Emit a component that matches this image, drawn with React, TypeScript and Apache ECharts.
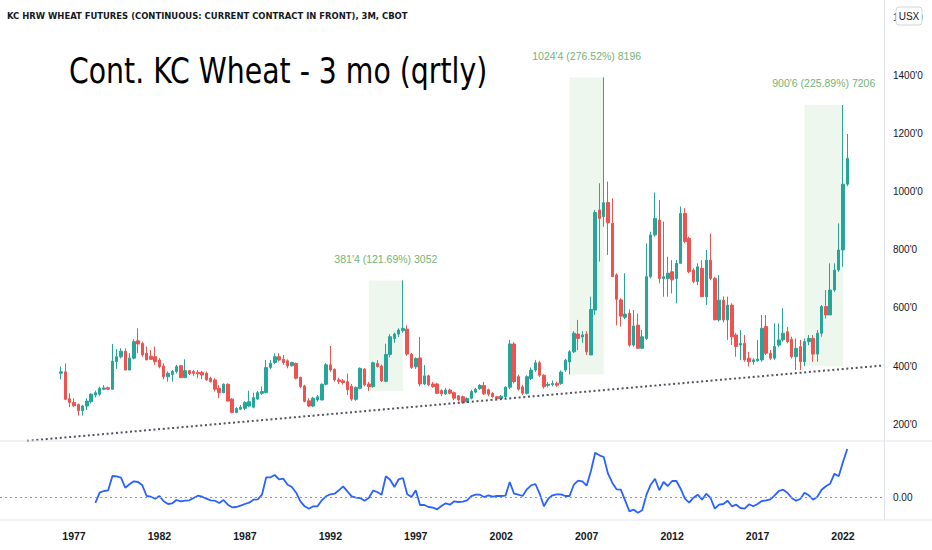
import { useEffect, useRef } from 'react';
import * as echarts from 'echarts';

// Quarterly candles, first candle = 1976 Q2. Each item: [open, close, low, high] (US cents / bu)
const FIRST_YEAR = 1976;
const FIRST_Q = 2;
const ohlc: [number, number, number, number][] = [
  [375, 380, 354, 398], [380, 285, 283, 409], [287, 274, 258, 306], [274, 263, 258, 289], [267, 246, 229, 271],
  [246, 262, 229, 266], [262, 279, 248, 289], [277, 303, 271, 306], [300, 308, 292, 315], [303, 323, 297, 329],
  [320, 324, 317, 334], [325, 320, 317, 329], [320, 417, 318, 476], [415, 432, 390, 458], [432, 451, 426, 461],
  [451, 386, 386, 461], [386, 427, 386, 444], [427, 484, 423, 492], [487, 476, 444, 530], [478, 438, 432, 484],
  [444, 421, 421, 467], [434, 423, 423, 455], [432, 415, 404, 467], [421, 398, 392, 427], [400, 363, 354, 409],
  [363, 375, 346, 381], [371, 381, 346, 386], [381, 398, 375, 404], [401, 360, 358, 404], [360, 384, 358, 423],
  [384, 373, 369, 386], [381, 375, 366, 386], [378, 373, 358, 386], [378, 369, 354, 383], [375, 352, 350, 381],
  [358, 346, 343, 363], [352, 320, 312, 358], [323, 308, 289, 335], [308, 337, 306, 340], [337, 279, 277, 340],
  [286, 240, 237, 289], [240, 254, 237, 258], [251, 258, 248, 266], [254, 274, 248, 279], [262, 277, 258, 315],
  [258, 291, 254, 308], [286, 308, 283, 314], [306, 312, 300, 329], [308, 395, 306, 421], [395, 409, 389, 421],
  [412, 432, 406, 444], [432, 421, 415, 444], [423, 412, 404, 438], [418, 400, 392, 423], [401, 412, 398, 415],
  [409, 358, 354, 412], [361, 329, 323, 363], [331, 278, 275, 335], [280, 262, 258, 289], [262, 289, 258, 294],
  [283, 294, 277, 300], [283, 337, 281, 340], [337, 404, 333, 410], [404, 386, 380, 469], [388, 352, 346, 392],
  [352, 347, 338, 360], [349, 343, 336, 355], [346, 318, 300, 374], [330, 286, 280, 338], [285, 326, 280, 330],
  [323, 392, 320, 395], [389, 335, 330, 393], [338, 329, 314, 345], [329, 411, 325, 415], [409, 398, 395, 420],
  [400, 349, 345, 405], [347, 440, 344, 477], [440, 501, 430, 510], [495, 510, 480, 515], [510, 524, 500, 530],
  [522, 530, 515, 695], [527, 441, 435, 540], [441, 395, 390, 445], [397, 426, 390, 430], [428, 338, 330, 500],
  [338, 366, 334, 403], [366, 335, 330, 370], [338, 329, 325, 345], [338, 306, 303, 342], [315, 304, 296, 320],
  [304, 317, 300, 325], [317, 306, 303, 322], [308, 289, 282, 312], [297, 283, 278, 300], [294, 274, 270, 298],
  [277, 288, 274, 292], [289, 312, 285, 318], [310, 320, 306, 325], [322, 333, 318, 338], [333, 304, 300, 345],
  [318, 303, 296, 322], [305, 294, 290, 310], [294, 288, 283, 297], [288, 296, 284, 300], [294, 327, 290, 330],
  [327, 476, 320, 490], [476, 346, 340, 482], [363, 320, 315, 370], [328, 306, 300, 335], [306, 363, 302, 368],
  [357, 386, 352, 395], [386, 411, 380, 420], [411, 368, 362, 418], [368, 329, 322, 372], [333, 337, 326, 345],
  [336, 340, 330, 350], [340, 334, 328, 346], [340, 379, 335, 385], [386, 420, 380, 425], [414, 449, 371, 455],
  [449, 513, 445, 520], [510, 495, 455, 559], [500, 507, 480, 520], [510, 449, 438, 520], [438, 595, 438, 639],
  [593, 929, 576, 938], [938, 909, 760, 1030], [915, 963, 880, 1395], [964, 894, 783, 1036], [892, 708, 708, 978],
  [714, 630, 540, 720], [628, 572, 536, 634], [568, 579, 562, 720], [582, 472, 466, 595], [472, 538, 466, 593],
  [541, 461, 458, 581], [461, 501, 458, 524], [495, 708, 490, 823], [708, 852, 702, 863], [852, 909, 846, 998],
  [903, 702, 685, 972], [702, 708, 639, 898], [702, 720, 639, 777], [725, 697, 650, 765], [702, 754, 616, 765],
  [754, 926, 754, 950], [926, 829, 823, 944], [840, 725, 720, 846], [731, 691, 685, 737], [691, 742, 679, 754],
  [737, 639, 639, 765], [639, 765, 610, 800], [765, 702, 696, 857], [702, 559, 559, 708], [559, 627, 553, 713],
  [627, 559, 550, 640], [559, 610, 490, 639], [610, 501, 472, 616], [507, 467, 432, 513], [472, 478, 421, 524],
  [478, 421, 415, 507], [427, 415, 398, 449], [415, 421, 404, 427], [418, 424, 415, 490], [421, 530, 415, 576],
  [536, 444, 438, 576], [444, 427, 421, 455], [427, 467, 421, 547], [472, 490, 466, 547], [490, 513, 484, 599],
  [518, 484, 478, 535], [492, 432, 426, 501], [432, 461, 386, 495], [467, 415, 386, 490], [415, 484, 399, 495],
  [484, 495, 472, 507], [495, 441, 415, 507], [441, 513, 415, 524], [513, 605, 501, 610], [605, 576, 564, 662],
  [576, 662, 576, 754], [662, 731, 656, 754], [731, 800, 725, 892], [800, 1027, 742, 1300], [1027, 1116, 1020, 1200],
];

// Lower-pane oscillator, starting at candle index 8 (1978 Q2)
const OSC_START = 8;
const oscillator: number[] = [
  -60, 43, 60, 67, 210, 207, 193, 93, 127, 157, 150, 117, 10, 3, -17, 10, -43, -70, -63, -30,
  -43, -37, -33, -10, 13, 3, -17, -33, -37, -60, -30, -77, -103, -100, -87, -70, -57, -27, -23, 23,
  197, 197, 220, 177, 183, 123, 100, 43, -43, -93, -117, -93, -93, -33, 7, 27, 33, 67, 107, 57,
  7, -7, -10, -37, -10, 63, 50, 23, 207, 173, 100, 177, 190, 27, 0, 67, -80, -80, -100, -107,
  -123, -90, -63, -77, -43, -50, -47, -33, 8, 23, 23, 0, 17, 3, 10, 10, 13, 150, 33, 23,
  10, 77, 117, 130, 33, -93, -17, 17, 27, 27, 10, 10, 123, 163, 157, 113, 260, 443, 417, 400,
  233, 143, 77, 73, -33, -143, -127, -157, -133, 23, 123, 183, 67, 150, 110, 160, 160, 83, -17, -57,
  -7, 23, -27, 33, -10, -117, -77, -70, -37, -93, -77, -110, -117, -73, -93, -70, -40, -33, -23, 17,
  60, 73, 43, -10, -37, -20, 43, 17, -27, 3, 73, 107, 133, 233, 207, 350, 480,
];

const yearLabels = ['1977', '1982', '1987', '1992', '1997', '2002', '2007', '2012', '2017', '2022'];
const priceTicks = [200, 400, 600, 800, 1000, 1200, 1400, 1600];
const oscTicks = [0];

// Dotted support trend line: [candle index, price]
const trendLine: [number, number][] = [[-8, 142], [192.6, 402]];

// Price-range measurements: candle index span + label
const rangeFrom = [72, 119, 174];
const rangeTo = [80, 127, 183];
const rangeLabels = ["381'4 (121.69%) 3052", "1024'4 (276.52%) 8196", "900'6 (225.89%) 7206"];

const X_MIN = -14.32;
const X_MAX = 192.6;

const quarterIndex = (year: number, q: number) => (year - FIRST_YEAR) * 4 + (q - FIRST_Q);

export default function App() {
  const ref = useRef<HTMLDivElement>(null);

  useEffect(() => {
    if (!ref.current) return;
    const chart = echarts.init(ref.current, undefined, { renderer: 'svg' });

    const candleData = ohlc.map((d, i) => [i, d[0], d[1], d[2], d[3]]);
    const oscData = oscillator.map((v, k) => [k + OSC_START, v]);
    const yearIdx = yearLabels.map((y) => quarterIndex(Number(y), 1));

    const areas = rangeFrom.map((from, k) => {
      const to = rangeTo[k];
      let lo = Infinity;
      let hi = -Infinity;
      for (let i = from; i <= to; i++) {
        lo = Math.min(lo, ohlc[i][2]);
        hi = Math.max(hi, ohlc[i][3]);
      }
      return [
        { name: rangeLabels[k], coord: [from, lo] },
        { coord: [to, hi] },
      ];
    });

    const font = '"Liberation Sans", Arial, sans-serif';
    const condensed = '"DejaVu Sans Condensed", "Liberation Sans Narrow", sans-serif';
    const sep = '#e0e3eb';

    chart.setOption({
      animation: false,
      backgroundColor: '#ffffff',
      textStyle: { fontFamily: font },
      title: [
        {
          text: 'KC HRW WHEAT FUTURES (CONTINUOUS: CURRENT CONTRACT IN FRONT), 3M, CBOT',
          left: 2,
          top: 6,
          textStyle: {
            fontSize: 9.4,
            fontWeight: 'bold',
            color: '#131722',
            fontFamily: condensed,
          },
        },
      ],
      grid: [
        { left: 0, top: 0, width: 884, height: 441 },
        { left: 0, top: 441, width: 884, height: 79 },
      ],
      xAxis: [
        {
          type: 'value',
          gridIndex: 0,
          min: X_MIN,
          max: X_MAX,
          axisLine: { show: false, onZero: false },
          axisTick: { show: false },
          axisLabel: { show: false },
          splitLine: { show: false },
        },
        {
          type: 'value',
          gridIndex: 1,
          min: X_MIN,
          max: X_MAX,
          axisLine: { show: false, onZero: false },
          axisTick: { show: false },
          splitLine: { show: false },
          axisLabel: {
            customValues: yearIdx,
            formatter: (v: number) => {
              const k = yearIdx.indexOf(Math.round(v));
              return k >= 0 ? yearLabels[k] : '';
            },
            color: '#131722',
            fontSize: 10.5,
            fontWeight: 'bold',
            margin: 10,
          },
        },
      ],
      yAxis: [
        {
          type: 'value',
          gridIndex: 0,
          position: 'right',
          min: 141.4,
          max: 1662,
          axisLine: { show: true, onZero: false, lineStyle: { color: sep } },
          axisTick: { show: false },
          splitLine: { show: false },
          axisLabel: {
            customValues: priceTicks,
            formatter: (v: number) => `${v}'0`,
            color: '#131722',
            fontSize: 10,
            margin: 9,
          },
        },
        {
          type: 'value',
          gridIndex: 1,
          position: 'right',
          min: -230,
          max: 560,
          axisLine: { show: true, onZero: false, lineStyle: { color: sep } },
          axisTick: { show: false },
          splitLine: { show: false },
          axisLabel: {
            customValues: oscTicks,
            formatter: (v: number) => v.toFixed(2),
            color: '#131722',
            fontSize: 10,
            margin: 9,
          },
        },
      ],
      series: [
        {
          type: 'candlestick',
          xAxisIndex: 0,
          yAxisIndex: 0,
          data: candleData,
          encode: { x: 0, y: [1, 2, 3, 4] },
          barWidth: 3,
          itemStyle: {
            color: '#26a69a',
            color0: '#ef5350',
            borderColor: '#26a69a',
            borderColor0: '#ef5350',
            borderWidth: 1,
          },
          markArea: {
            silent: true,
            itemStyle: { color: 'rgba(76,175,80,0.1)' },
            label: {
              show: true,
              position: 'top',
              distance: 16,
              color: '#74b377',
              fontSize: 10.5,
            },
            data: areas,
          },
        },
        {
          type: 'line',
          xAxisIndex: 0,
          yAxisIndex: 0,
          data: trendLine,
          symbol: 'none',
          silent: true,
          lineStyle: { color: '#50535e', width: 2, type: [2, 2.7] },
        },
        {
          type: 'line',
          xAxisIndex: 1,
          yAxisIndex: 1,
          data: oscData,
          symbol: 'none',
          silent: true,
          lineStyle: { color: '#2962ff', width: 1.8 },
          markLine: {
            silent: true,
            symbol: ['none', 'none'],
            label: { show: false },
            lineStyle: { color: '#9598a1', type: [2, 3], width: 1 },
            data: [{ yAxis: 0 }],
          },
        },
      ],
      graphic: [
        {
          type: 'text',
          z: 100,
          x: 69,
          y: 71,
          scaleX: 0.9,
          style: {
            text: 'Cont. KC Wheat - 3 mo (qrtly)',
            fill: '#000000',
            fontSize: 35,
            fontFamily: condensed,
            align: 'left',
            verticalAlign: 'middle',
          },
        },
        { type: 'line', z: 100, shape: { x1: 0, y1: 441, x2: 932, y2: 441 }, style: { stroke: sep, lineWidth: 1 } },
        { type: 'line', z: 100, shape: { x1: 0, y1: 520, x2: 932, y2: 520 }, style: { stroke: sep, lineWidth: 1 } },
        {
          type: 'rect',
          z: 100,
          shape: { x: 896, y: 7, width: 26, height: 18, r: 3 },
          style: { fill: '#ffffff', stroke: '#d1d4dc', lineWidth: 1 },
        },
        {
          type: 'text',
          z: 101,
          x: 909,
          y: 16,
          style: {
            text: 'USX',
            fill: '#131722',
            fontSize: 10,
            fontFamily: font,
            align: 'center',
            verticalAlign: 'middle',
          },
        },
      ],
    });

    return () => chart.dispose();
  }, []);

  return (
    <div
      ref={ref}
      style={{ position: 'fixed', left: 0, top: 0, width: 932, height: 550, background: '#fff' }}
    />
  );
}
